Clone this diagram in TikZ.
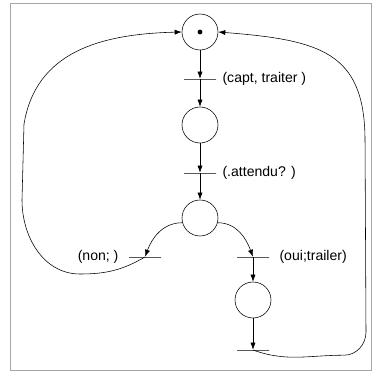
\documentclass[tikz,border=0pt]{standalone}
\usepackage{fontspec}
\setmainfont{Liberation Sans}
\usetikzlibrary{arrows.meta,positioning}

\begin{document}
\begin{tikzpicture}[>={Latex[length=5pt,width=3.6pt]},
  place/.style={draw,circle,minimum size=0.9cm,inner sep=0pt},
  trans/.style={draw,minimum width=0.8cm,minimum height=0pt,inner sep=0pt},
  lbl/.style={inner sep=0pt}]
\useasboundingbox(0,0)rectangle(9.3,9.3);
\draw[gray!70](0.25,0.05)rectangle(9.28,9.23);
% places et transitions
\node[place](p0)at(5,8.5){};
\fill(p0)circle[radius=0.06];
\node[trans](t1)at(5,7.325){};
\node[place](p1)at(5,6.175){};
\node[trans](t2)at(5,4.975){};
\node[place](p2)at(5,3.85){};
\node[trans](t3)at(3.625,2.875){};
\node[trans](t4)at(6.325,2.875){};
\node[place](p3)at(6.325,1.8){};
\node[trans](t5)at(6.325,0.55){};
\node[lbl,right=0.15cm of t1](l1){(capt, traiter )};
\node[lbl,right=0.15cm of t2](l2){(.attendu? )};
\node[lbl,left=0.25cm of t3](l3){(non; )};
\node[lbl,right=0.25cm of t4](l4){(oui;trailer)};
% arcs
\draw[->](p0)--(t1);
\draw[->](t1)--(p1);
\draw[->](p1)--(t2);
\draw[->](t2)--(p2);
\draw[->](p2.195)to[out=180,in=70](t3);
\draw[->](p2.-15)to[out=0,in=110](t4);
\draw[->](t4)--(p3);
\draw[->](p3)--(t5);
\draw[->](t3.center)to[out=-150,in=0](2.0,2.45)to[out=180,in=-90](0.55,4.3)
  --(0.6,6.2)..controls(0.9,8.0)and(2.5,8.45)..(p0.west);
\draw[->](t5.center)to[out=-20,in=180](8.6,0.42)to[out=0,in=-90](9.15,1.0)
  --(9.125,5.85)..controls(9.1,8.0)and(8.0,8.3)..(p0.east);
\end{tikzpicture}
\end{document}
